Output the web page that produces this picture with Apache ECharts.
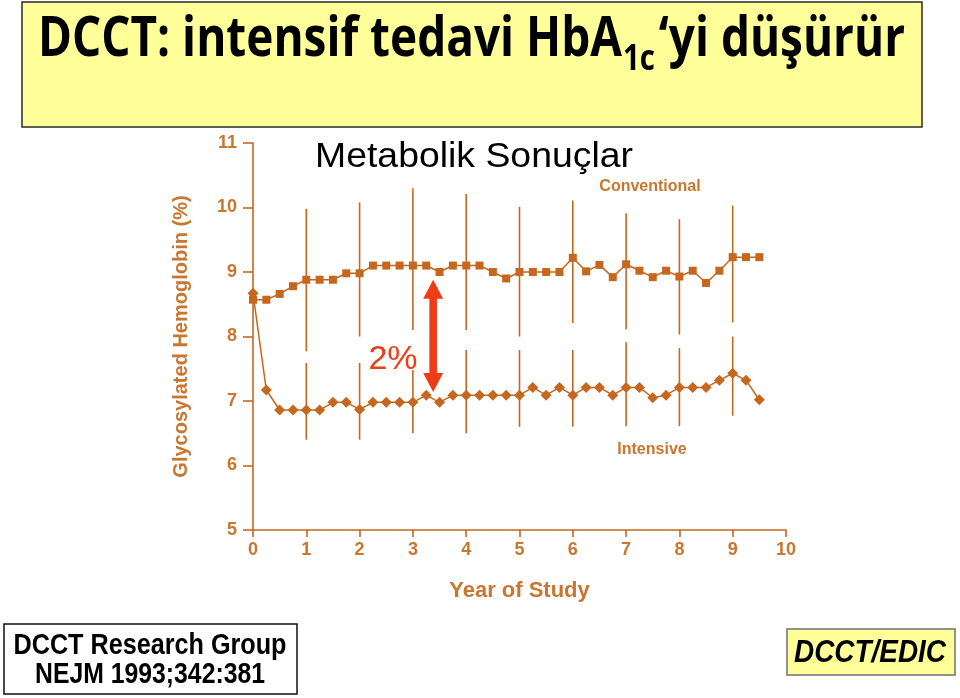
<!DOCTYPE html>
<html><head><meta charset="utf-8">
<script src="https://cdn.jsdelivr.net/npm/echarts@6/dist/echarts.min.js"></script>
<style>html,body{margin:0;padding:0;background:#fff}#c{width:960px;height:698px}</style>
</head><body><div id="c"></div>
<script>
// ---- data ----
const quarters = [0,0.25,0.5,0.75,1,1.25,1.5,1.75,2,2.25,2.5,2.75,3,3.25,3.5,3.75,4,4.25,4.5,4.75,5,5.25,5.5,5.75,6,6.25,6.5,6.75,7,7.25,7.5,7.75,8,8.25,8.5,8.75,9,9.25,9.5];
const conventional = [8.57,8.57,8.66,8.78,8.88,8.88,8.88,8.98,8.98,9.10,9.10,9.10,9.10,9.10,9.00,9.10,9.10,9.10,9.00,8.90,9.00,9.00,9.00,9.00,9.22,9.01,9.11,8.92,9.12,9.02,8.92,9.02,8.93,9.02,8.83,9.02,9.23,9.23,9.23];
const intensive = [8.67,7.17,6.86,6.86,6.86,6.86,6.98,6.98,6.87,6.98,6.98,6.98,6.98,7.09,6.98,7.09,7.09,7.09,7.09,7.09,7.09,7.21,7.09,7.21,7.09,7.21,7.21,7.09,7.21,7.21,7.05,7.09,7.21,7.21,7.21,7.32,7.43,7.32,7.02];
const barYears = [1,2,3,4,5,6,7,8,9];
const convHigh = [9.98,10.08,10.30,10.21,10.01,10.11,9.91,9.82,10.03];
const convLow  = [7.77,8.00,8.10,8.10,8.00,8.21,8.11,8.03,8.22];
const intHigh  = [7.59,7.59,7.48,7.79,7.79,7.79,7.91,7.82,8.00];
const intLow   = [6.40,6.40,6.50,6.50,6.60,6.60,6.61,6.61,6.77];
const arrowData = [[3.38, 8.88, 7.14]];
const yTicks = [5,6,7,8,9,10,11];
const xTicks = [0,1,2,3,4,5,6,7,8,9,10];

// ---- style ----
const C = '#c5671f';
const CT = '#c9762f';
const RED = '#f03c16';
const F = 'Liberation Sans, Arial, sans-serif';

const cv = document.createElement('canvas').getContext('2d');
function mw(t, font){ cv.font = font; return cv.measureText(t).width; }
function fitText(t, font, target){ return target / mw(t, font); }

const chart = echarts.init(document.getElementById('c'), null, {renderer:'canvas'});

// title pieces
const TF = 'Open Sans';
const tSize = 56, sSize = 36;
const p1 = 'DCCT: intensif tedavi HbA', ps = '1c', p3 = '\u2018yi düşürür';
const w1 = mw(p1, `bold ${tSize}px "${TF}"`), wsub = mw(ps, `bold ${sSize}px "${TF}"`), w3 = mw(p3, `bold ${tSize}px "${TF}"`);
const gap = 6;
const sx = (905 - 38) / (w1 + wsub + w3 + gap);

const barSeries = (lo, hi) => ({
  type: 'custom', z: 1, silent: true,
  data: barYears.map((y, i) => [y, lo[i], hi[i]]),
  encode: {x: 0, y: [1, 2]},
  renderItem(params, api){
    const a = api.coord([api.value(0), api.value(1)]);
    const b = api.coord([api.value(0), api.value(2)]);
    return {type: 'line', shape: {x1: a[0], y1: a[1], x2: b[0], y2: b[1]}, style: {stroke: C, lineWidth: 1.6}};
  }
});

const mfont = `35px ${F}`;
const option = {
  animation: false,
  backgroundColor: '#fff',
  grid: {left: 253, top: 143, right: 174, bottom: 168},
  xAxis: {
    type: 'value', min: 0, max: 10, interval: 1,
    name: 'Year of Study', nameLocation: 'middle', nameGap: 50,
    nameTextStyle: {color: CT, fontSize: 22, fontWeight: 'bold', fontFamily: F},
    axisLine: {lineStyle: {color: C, width: 1.6}},
    axisTick: {show: true, length: 7, lineStyle: {color: C, width: 1.6}},
    axisLabel: {color: CT, fontSize: 18, fontWeight: 'bold', fontFamily: F, margin: 11,
      formatter: v => xTicks.includes(v) ? String(v) : ''},
    splitLine: {show: false}
  },
  yAxis: {
    type: 'value', min: 5, max: 11, interval: 1,
    name: 'Glycosylated Hemoglobin (%)', nameLocation: 'middle', nameGap: 62, nameRotate: 90,
    nameTextStyle: {color: CT, fontSize: 20, fontWeight: 'bold', fontFamily: F},
    axisLine: {show: true, lineStyle: {color: C, width: 1.6}},
    axisTick: {show: true, length: 10, lineStyle: {color: C, width: 1.6}},
    axisLabel: {color: CT, fontSize: 18, fontWeight: 'bold', fontFamily: F, margin: 16,
      formatter: v => yTicks.includes(v) ? String(v) : ''},
    splitLine: {show: false}
  },
  series: [
    barSeries(convLow, convHigh),
    barSeries(intLow, intHigh),
    {
      type: 'line', name: 'Conventional', z: 3,
      data: quarters.map((q, i) => [q, conventional[i]]),
      symbol: 'rect', symbolSize: 8, showAllSymbol: true,
      lineStyle: {color: C, width: 1.5}, itemStyle: {color: C}
    },
    {
      type: 'line', name: 'Intensive', z: 3,
      data: quarters.map((q, i) => [q, intensive[i]]),
      symbol: 'diamond', symbolSize: 11, showAllSymbol: true,
      lineStyle: {color: C, width: 1.5}, itemStyle: {color: C}
    },
    {
      type: 'custom', z: 4, silent: true,
      data: arrowData,
      encode: {x: 0, y: [1, 2]},
      renderItem(params, api){
        const top = api.coord([api.value(0), api.value(1)]);
        const bot = api.coord([api.value(0), api.value(2)]);
        const x = top[0], hl = 19, hw = 10, sw = 3.8;
        return {type: 'group', children: [
          {type: 'rect', shape: {x: x - sw, y: top[1] + hl - 1, width: sw * 2, height: bot[1] - top[1] - 2 * hl + 2}, style: {fill: RED}},
          {type: 'polygon', shape: {points: [[x, top[1]], [x - hw, top[1] + hl], [x + hw, top[1] + hl]]}, style: {fill: RED}},
          {type: 'polygon', shape: {points: [[x, bot[1]], [x - hw, bot[1] - hl], [x + hw, bot[1] - hl]]}, style: {fill: RED}}
        ]};
      }
    }
  ],
  graphic: [
    {type: 'rect', shape: {x: 22, y: 2, width: 900, height: 125}, style: {fill: '#ffff99', stroke: '#2a2a2a', lineWidth: 1.5}, z: 0},
    {type: 'text', x: 38, y: 40, scaleX: sx, style: {text: p1, font: `bold ${tSize}px "${TF}"`, fill: '#000', verticalAlign: 'middle'}},
    {type: 'text', x: 38 + w1 * sx + 1, y: 60, scaleX: sx, style: {text: ps, font: `bold ${sSize}px "${TF}"`, fill: '#000', verticalAlign: 'middle'}},
    {type: 'text', x: 38 + (w1 + wsub + gap) * sx, y: 40, scaleX: sx, style: {text: p3, font: `bold ${tSize}px "${TF}"`, fill: '#000', verticalAlign: 'middle'}},
    {type: 'text', x: 474, y: 157, scaleX: fitText('Metabolik Sonuçlar', mfont, 318), style: {text: 'Metabolik Sonuçlar', font: mfont, fill: '#000', align: 'center', verticalAlign: 'middle'}},
    {type: 'text', x: 650, y: 187, style: {text: 'Conventional', font: `bold 16px ${F}`, fill: CT, align: 'center', verticalAlign: 'middle'}},
    {type: 'text', x: 652, y: 450, style: {text: 'Intensive', font: `bold 16px ${F}`, fill: CT, align: 'center', verticalAlign: 'middle'}},
    {type: 'text', x: 393, y: 360, style: {text: '2%', font: `34px ${F}`, fill: RED, align: 'center', verticalAlign: 'middle'}},
    {type: 'rect', shape: {x: 4, y: 624, width: 293, height: 70}, style: {fill: '#fff', stroke: '#111', lineWidth: 1.5}},
    {type: 'text', x: 150, y: 646, scaleX: fitText('DCCT Research Group', `bold 29px ${F}`, 273),
      style: {text: 'DCCT Research Group', font: `bold 29px ${F}`, fill: '#000', align: 'center', verticalAlign: 'middle'}},
    {type: 'text', x: 150, y: 675, scaleX: fitText('NEJM 1993;342:381', `bold 29px ${F}`, 230),
      style: {text: 'NEJM 1993;342:381', font: `bold 29px ${F}`, fill: '#000', align: 'center', verticalAlign: 'middle'}},
    {type: 'rect', shape: {x: 787, y: 629, width: 168, height: 46}, style: {fill: '#ffff99', stroke: '#6f6f6f', lineWidth: 1.5}},
    {type: 'text', x: 870, y: 653, scaleX: fitText('DCCT/EDIC', `italic bold 31px ${F}`, 152),
      style: {text: 'DCCT/EDIC', font: `italic bold 31px ${F}`, fill: '#000', align: 'center', verticalAlign: 'middle'}}
  ]
};
chart.setOption(option);
</script>
</body></html>
